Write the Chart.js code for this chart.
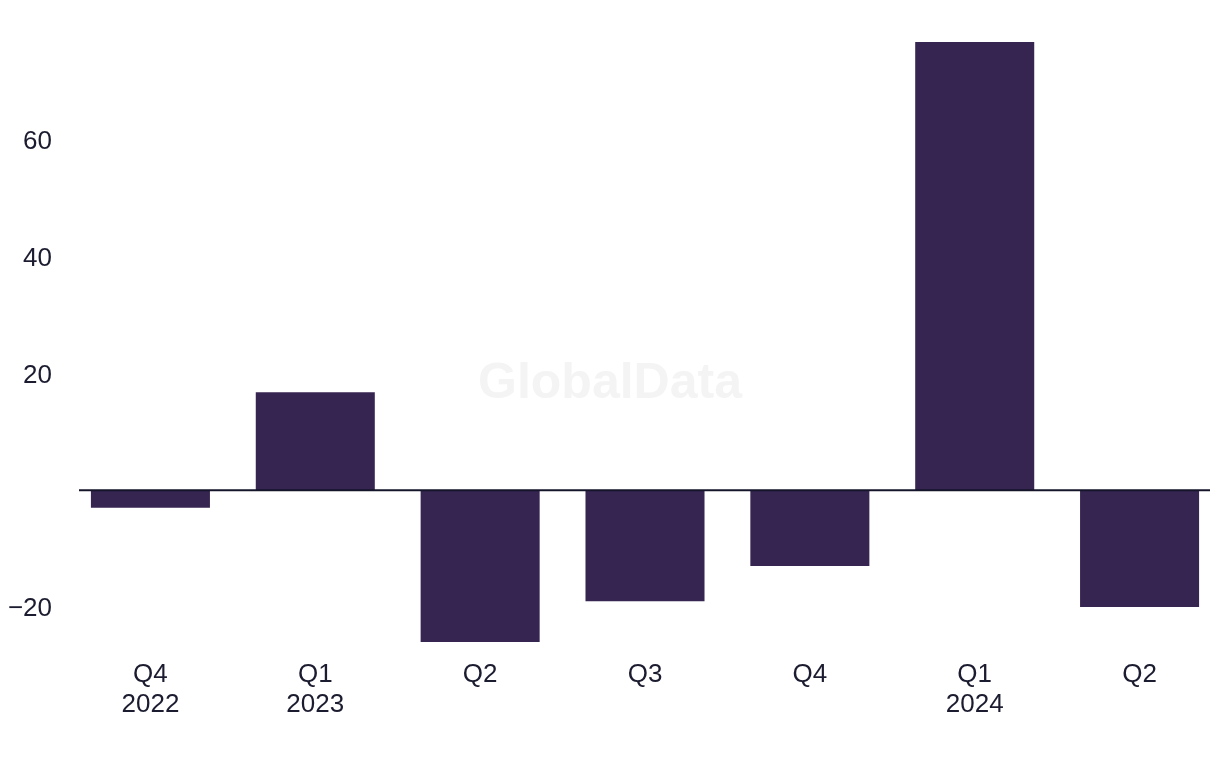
<!DOCTYPE html>
<html>
<head>
<meta charset="utf-8">
<script src="https://cdn.jsdelivr.net/npm/chart.js@4"></script>
<style>
    html, body { margin: 0; padding: 0; background: #ffffff; overflow: hidden; }
    #wrap { width: 1220px; height: 768px; overflow: hidden; }
</style>
</head>
<body>
<div id="wrap"><canvas id="myCanvas" width="1222" height="768"></canvas></div>
<script>
// chart values
var quarters = [["Q4", "2022"], ["Q1", "2023"], "Q2", "Q3", "Q4", ["Q1", "2024"], "Q2"];
var values = [-3, 16.8, -26, -19, -13, 76.8, -20];
var yTicks = [-20, 20, 40, 60];

var textColor = "#1c1c30";
var barColor = "#362551";
var fontFamily = "'Liberation Sans', Arial, sans-serif";

var watermark = {
    id: "watermark",
    beforeDatasetsDraw: function (chart) {
        var ctx = chart.ctx;
        ctx.save();
        ctx.font = "bold 50px " + fontFamily;
        ctx.fillStyle = "#f4f4f4";
        ctx.textAlign = "center";
        ctx.textBaseline = "middle";
        ctx.fillText("GlobalData", 610, chart.height / 2);
        ctx.restore();
    }
};

var zeroLine = {
    id: "zeroLine",
    afterDatasetsDraw: function (chart) {
        var ctx = chart.ctx;
        var area = chart.chartArea;
        var y = chart.scales.y.getPixelForValue(0);
        ctx.save();
        ctx.strokeStyle = "#14142b";
        ctx.lineWidth = 2;
        ctx.beginPath();
        ctx.moveTo(area.left + 11, y);
        ctx.lineTo(area.right - 12, y);
        ctx.stroke();
        ctx.restore();
    }
};

graph();

function graph() {
    var chartdata = {
        labels: quarters,
        datasets: [
            {
                label: "Change",
                backgroundColor: barColor,
                borderWidth: 0,
                barPercentage: 0.722,
                categoryPercentage: 1,
                data: values,
            },
        ],
    };

    new Chart(document.getElementById("myCanvas"), {
        type: "bar",
        data: chartdata,
        plugins: [watermark, zeroLine],
        options: {
            responsive: false,
            animation: false,
            layout: { padding: { top: 42, right: 0, bottom: 0, left: 0 } },
            plugins: {
                legend: { display: false },
                tooltip: { enabled: false },
            },
            scales: {
                x: {
                    grid: { display: false, drawTicks: false },
                    border: { display: false },
                    ticks: {
                        color: textColor,
                        padding: 18,
                        maxRotation: 0,
                        autoSkip: false,
                        font: { family: fontFamily, size: 26, lineHeight: 1.16 },
                    },
                    afterFit: function (scale) { scale.height = 126; },
                },
                y: {
                    min: -26,
                    max: 76.8,
                    grid: { display: false, drawTicks: false },
                    border: { display: false },
                    ticks: {
                        color: textColor,
                        padding: 16,
                        labelOffset: 2,
                        font: { family: fontFamily, size: 26 },
                        callback: function (v) { return v < 0 ? "\u2212" + Math.abs(v) : String(v); },
                    },
                    afterBuildTicks: function (scale) {
                        scale.ticks = yTicks.map(function (v) { return { value: v }; });
                    },
                    afterFit: function (scale) { scale.width = 68; },
                },
            },
        },
    });
}
</script>
</body>
</html>
